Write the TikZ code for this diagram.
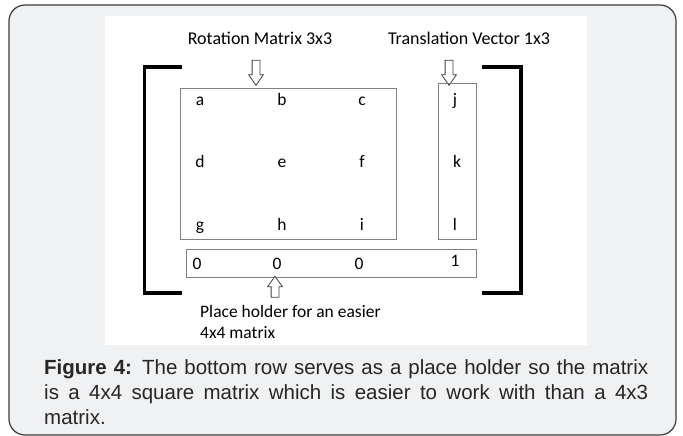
\documentclass[tikz,border=0pt]{standalone}
\usepackage{fontspec}
\setmainfont{Carlito}
\newfontfamily\captionfont{Liberation Sans}
\usetikzlibrary{shapes.arrows,positioning}
\definecolor{cardgray}{HTML}{F0F1F3}
\definecolor{cardline}{HTML}{3C3C3C}
\definecolor{boxgray}{HTML}{808080}

\begin{document}
\begin{tikzpicture}[x=1pt, y=-1pt,
    entry/.style={font=\fontsize{17.5}{21}\selectfont, inner sep=0pt, anchor=base},
    matbox/.style={draw=boxgray, line width=1pt, inner sep=0pt},
    blockarrow/.style={single arrow, draw=black!75, fill=white, line width=0.8pt,
        minimum height=25pt, minimum width=14pt, inner sep=3.5pt,
        single arrow head extend=3.5pt, single arrow tip angle=70},
    bracketline/.style={line width=3.5pt}]
    \useasboundingbox (0,0) rectangle (683,436);

    % card and picture area
    \draw[fill=cardgray, draw=cardline, line width=1.2pt, rounded corners=16pt] (9,5) rectangle (676,435);
    \fill[white] (105,16) rectangle (587,345);

    % titles and arrows
    \node[entry, font=\fontsize{18}{21}\selectfont] (rottitle) at (260,45) {Rotation Matrix 3x3};
    \node[entry, font=\fontsize{18}{21}\selectfont] (transtitle) at (469,45) {Translation Vector 1x3};
    \node[blockarrow, rotate=-90] (rotarrow) at (256,70) {};
    \node[blockarrow, rotate=-90] (transarrow) at (449,70) {};

    % brackets
    \draw[bracketline] (182,67) -- (144.5,67) -- (144.5,293) -- (182,293);
    \draw[bracketline] (482,67) -- (521,67) -- (521,293) -- (482,293);

    % boxes
    \node[matbox, minimum width=216pt, minimum height=150pt] (rotbox) at (288,164) {};
    \node[matbox, minimum width=38pt, minimum height=155pt] (transbox) at (457,161.5) {};
    \node[matbox, minimum width=290pt, minimum height=28pt] (zerobox) at (331,263) {};

    % entries
    \foreach \txt/\cx/\cy in {a/200/106, b/282/106, c/362/106, j/455/106,
                              d/200/167, e/282/167, f/362/167, k/457/167,
                              g/200/230, h/282/230, i/362/230, l/455/230}
        \node[entry] (e\txt) at (\cx,\cy) {\txt};
    \node[entry] (zeroa) at (197,269.5) {0};
    \node[entry] (zerob) at (277,269.5) {0};
    \node[entry] (zeroc) at (359,269.5) {0};
    \node[entry] (one) at (455,266) {1};

    % place holder note
    \node[blockarrow, rotate=90, minimum height=21pt] (holdarrow) at (275,289.5) {};
    \node[entry, anchor=north west, align=left] (holdtext) at (200,305)
        {Place holder for an easier\\4x4 matrix};

    % caption
    \node[anchor=north west, inner sep=0pt, text width=604pt, align=justify,
          font=\captionfont\fontsize{20.5}{25}\selectfont, text=black!85] (caption) at (44,359)
        {\textbf{Figure 4:} The bottom row serves as a place holder so the matrix\linebreak
         is a 4x4 square matrix which is easier to work with than a 4x3\linebreak matrix.};
\end{tikzpicture}
\end{document}
